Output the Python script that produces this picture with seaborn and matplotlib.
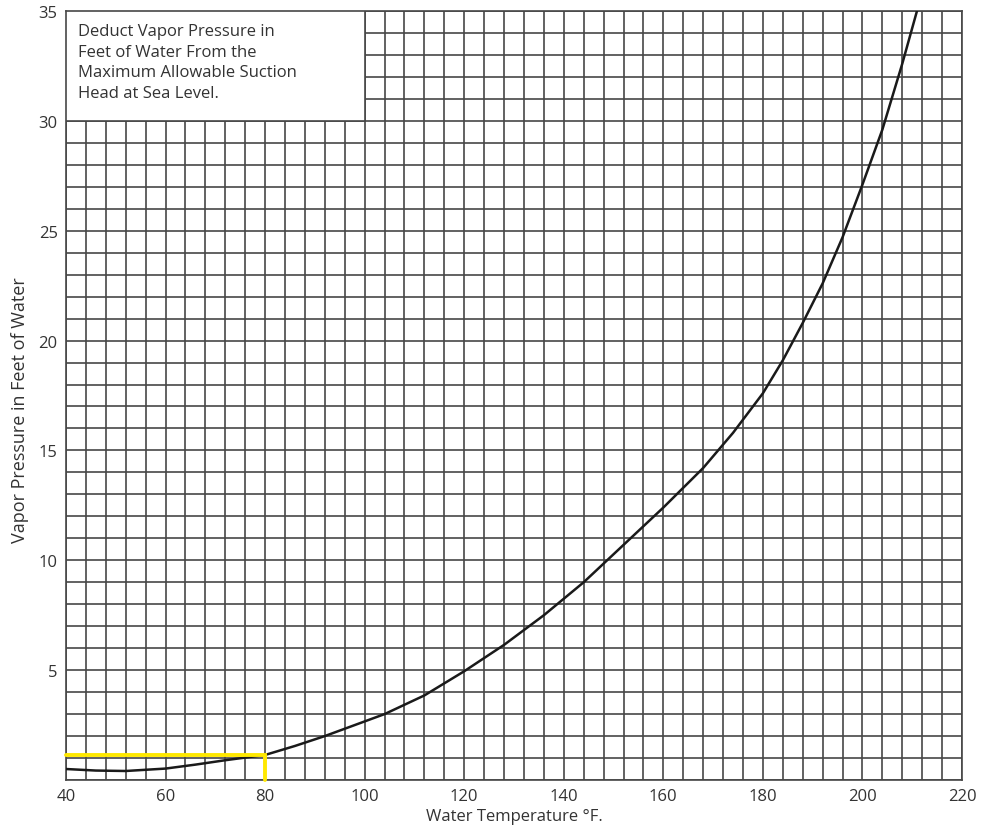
import matplotlib
matplotlib.use("Agg")
import matplotlib.pyplot as plt
from matplotlib.ticker import MultipleLocator, FixedLocator
from matplotlib.patches import Rectangle
import seaborn as sns
import pandas as pd

# Data
temperature_f = [40, 46, 52, 60, 66, 72, 80, 86, 92, 98, 104, 112, 120, 128, 136,
                 144, 152, 160, 168, 174, 180, 184, 188, 192, 196, 200, 204,
                 208, 211.2]
vapor_ft = [0.50, 0.43, 0.41, 0.52, 0.70, 0.90, 1.14, 1.55, 2.0, 2.5, 3.0, 3.85,
            4.95, 6.15, 7.5, 9.0, 10.7, 12.4, 14.2, 15.8, 17.6, 19.1, 20.8,
            22.6, 24.7, 27.1, 29.6, 32.6, 35.2]

marker_x = [40, 80, 80]
marker_y = [1.14, 1.14, 0]

x_ticks = [40, 60, 80, 100, 120, 140, 160, 180, 200, 220]
y_ticks = [5, 10, 15, 20, 25, 30, 35]
note_lines = ["Deduct Vapor Pressure in", "Feet of Water From the",
              "Maximum Allowable Suction", "Head at Sea Level."]

sns.set_theme(style="white")
plt.rcParams['font.family'] = ['Open Sans', 'DejaVu Sans']

fig = plt.figure(figsize=(9.87, 8.37), dpi=100)
ax = fig.add_axes([66/987, 56/837, (962-66)/987, (781-12)/837])

df = pd.DataFrame({"T": temperature_f, "V": vapor_ft})
sns.lineplot(data=df, x="T", y="V", ax=ax, color="#1a1a1a", linewidth=1.8,
             sort=False, zorder=4)
ax.plot(marker_x, marker_y, color="#FFE800", linewidth=2.8, zorder=5,
        solid_joinstyle="miter", clip_on=False)

ax.set_xlim(40, 220)
ax.set_ylim(0, 35)
ax.xaxis.set_major_locator(FixedLocator(x_ticks))
ax.yaxis.set_major_locator(FixedLocator(y_ticks))
ax.xaxis.set_minor_locator(MultipleLocator(4))
ax.yaxis.set_minor_locator(MultipleLocator(1))
ax.grid(True, which="both", color="#474747", linewidth=1.2)
ax.set_axisbelow(True)
ax.tick_params(which="both", length=0, labelsize=12, labelcolor="#333333", pad=6)
for s in ax.spines.values():
    s.set_color("#474747")
    s.set_linewidth(1.2)

ax.set_xlabel("Water Temperature °F.", fontsize=12, color="#333333", labelpad=3)
ax.set_ylabel("Vapor Pressure in Feet of Water", fontsize=13, color="#333333")
ax.yaxis.set_label_coords(-0.041, 0.482)

# note box
ax.add_patch(Rectangle((40, 30), 60, 5, facecolor="white", edgecolor="#474747",
                       linewidth=1.2, zorder=3))
ax.text(42.4, 34.45, "\n".join(note_lines), fontsize=12, color="#333333",
        va="top", ha="left", linespacing=1.38, zorder=6)

fig.savefig("out.png", dpi=100)
